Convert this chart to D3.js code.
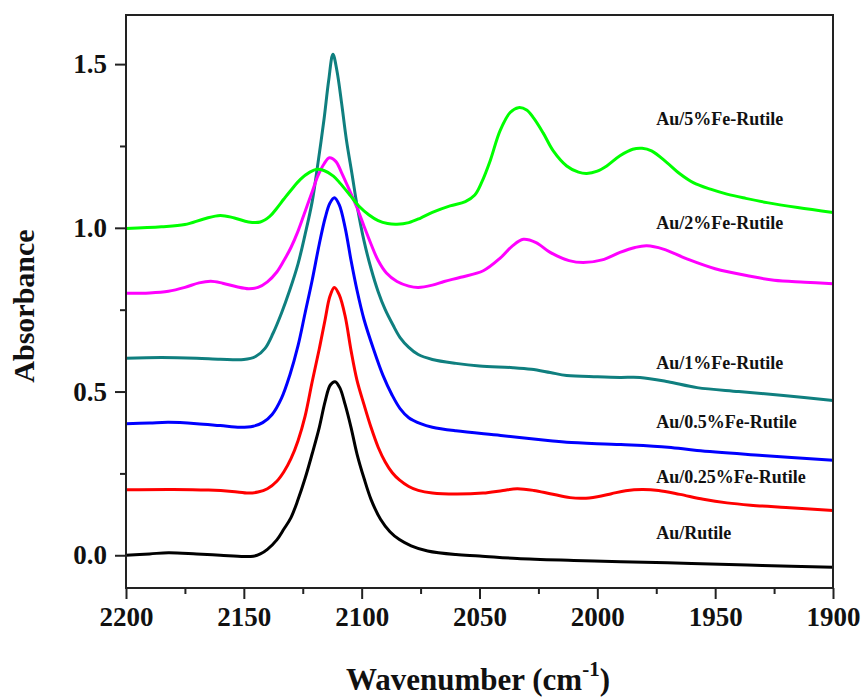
<!DOCTYPE html>
<html>
<head>
<meta charset="utf-8">
<script src="https://cdn.jsdelivr.net/npm/d3@7"></script>
<style>
  html, body { margin: 0; padding: 0; background: #fff; }
  svg { display: block; }
  text { font-family: "Times New Roman", "Liberation Serif", "DejaVu Serif", serif; font-weight: bold; fill: #111; }
</style>
</head>
<body>
<svg id="chart" width="864" height="700"></svg>
<script>
// IR spectra of CO adsorbed on Au catalysts: [wavenumber (cm-1), absorbance]
const auRutile = [
  [2200,0],[2190,0.004],[2182,0.008],[2170,0.004],[2160,0],[2150,-0.004],[2146,-0.003],
  [2143,0.004],[2140,0.018],[2136,0.047],[2133,0.08],[2130,0.115],[2127,0.17],[2124,0.235],
  [2121,0.31],[2118,0.39],[2115.5,0.47],[2113.3,0.52],[2111.3,0.53],[2109.3,0.512],
  [2107,0.46],[2104.5,0.39],[2102,0.31],[2099,0.235],[2096,0.17],[2092,0.11],[2088,0.072],
  [2084,0.048],[2079,0.029],[2072,0.013],[2060,0.002],[2050,-0.002],[2034,-0.01],
  [2010,-0.016],[1990,-0.02],[1960,-0.025],[1930,-0.031],[1900,-0.037]
];
const au025Fe = [
  [2200,0.2],[2180,0.201],[2165,0.199],[2155,0.195],[2148,0.19],[2144,0.193],[2140,0.203],
  [2136,0.226],[2133,0.255],[2130,0.295],[2127,0.35],[2124,0.425],[2121,0.53],[2118,0.63],
  [2115.5,0.72],[2113.5,0.79],[2111.6,0.818],[2109.5,0.795],[2107,0.73],[2104.5,0.625],
  [2102,0.535],[2099,0.46],[2096,0.39],[2093,0.33],[2090,0.285],[2087,0.252],[2084,0.23],
  [2080,0.21],[2076,0.198],[2070,0.19],[2060,0.187],[2048.5,0.19],[2040,0.198],[2034,0.203],
  [2027,0.198],[2020,0.188],[2011.6,0.176],[2006,0.174],[2000,0.179],[1994,0.188],
  [1988,0.197],[1981,0.201],[1974,0.198],[1965,0.186],[1955,0.171],[1945,0.16],
  [1935,0.153],[1920,0.146],[1900,0.137]
];
const au05Fe = [
  [2200,0.402],[2190,0.404],[2182,0.406],[2170,0.402],[2160,0.396],[2151.6,0.391],[2146,0.394],
  [2142,0.405],[2138,0.43],[2134,0.48],[2130.5,0.55],[2127,0.64],[2124,0.74],[2121,0.84],
  [2118,0.95],[2115.5,1.03],[2113.5,1.075],[2111.6,1.092],[2109.5,1.07],[2107,1.0],
  [2104.5,0.9],[2102,0.81],[2099,0.72],[2095,0.63],[2091,0.55],[2087,0.488],[2083.7,0.448],
  [2080,0.42],[2075,0.402],[2070,0.391],[2060,0.38],[2041,0.366],[2020,0.35],[2013,0.345],
  [1990,0.338],[1970,0.33],[1957.7,0.32],[1930,0.305],[1900,0.29]
];
const au1Fe = [
  [2200,0.602],[2185,0.604],[2170,0.602],[2160,0.599],[2150,0.598],[2145,0.607],[2141,0.632],
  [2137.6,0.678],[2134,0.74],[2130.5,0.81],[2127,0.89],[2124,0.98],[2121,1.08],[2118.5,1.2],
  [2116,1.33],[2114,1.45],[2112.2,1.53],[2110.5,1.48],[2108.5,1.38],[2106.5,1.27],[2104,1.16],
  [2102,1.07],[2099,0.96],[2096,0.875],[2093,0.805],[2090,0.75],[2086.7,0.703],[2083.7,0.665],
  [2080,0.635],[2076,0.613],[2070,0.598],[2060,0.586],[2050,0.578],[2035.8,0.573],[2028,0.568],
  [2020,0.558],[2013,0.549],[2000,0.545],[1990.4,0.543],[1981.9,0.543],[1970,0.53],
  [1957.7,0.512],[1940,0.5],[1921,0.488],[1900,0.473]
];
const au2Fe = [
  [2200,0.8],[2190,0.801],[2182,0.806],[2175,0.818],[2169,0.832],[2164,0.837],[2159,0.831],
  [2153,0.82],[2148,0.814],[2144,0.818],[2140,0.835],[2136,0.865],[2133,0.9],[2130,0.94],
  [2127,0.99],[2124,1.05],[2121,1.11],[2118.5,1.16],[2116,1.195],[2113.7,1.214],[2111,1.203],
  [2108.5,1.168],[2105,1.112],[2102,1.062],[2099,1.005],[2096,0.95],[2093,0.9],[2089.5,0.862],
  [2085,0.836],[2080,0.822],[2076,0.818],[2070,0.825],[2065,0.836],[2058,0.849],[2048.4,0.869],
  [2041,0.909],[2036,0.945],[2031.4,0.965],[2026,0.955],[2020,0.925],[2012,0.9],[2006,0.894],
  [1998,0.902],[1990.4,0.925],[1984,0.94],[1979,0.945],[1972,0.935],[1962,0.905],[1950,0.875],
  [1935,0.852],[1925,0.84],[1912,0.834],[1900,0.829]
];
const au5Fe = [
  [2200,0.998],[2185,1.003],[2175,1.01],[2167,1.027],[2160,1.038],[2154,1.03],[2148,1.018],
  [2143,1.018],[2139,1.035],[2136,1.06],[2133,1.088],[2130,1.115],[2126,1.148],[2122,1.17],
  [2119,1.179],[2116,1.175],[2112,1.158],[2109,1.135],[2105,1.1],[2101,1.065],[2097,1.04],
  [2093,1.022],[2089,1.013],[2085,1.011],[2080,1.016],[2075,1.03],[2070,1.047],[2062.5,1.067],
  [2056,1.08],[2052,1.1],[2049,1.14],[2045.5,1.204],[2041.3,1.296],[2037,1.352],[2033.5,1.367],
  [2030,1.36],[2027,1.335],[2023,1.29],[2018.7,1.235],[2013,1.189],[2008,1.17],[2004.5,1.166],
  [2000,1.173],[1996,1.189],[1990.4,1.22],[1985,1.24],[1981,1.243],[1977,1.235],[1970.6,1.2],
  [1965,1.165],[1959.3,1.138],[1952,1.118],[1945,1.103],[1937,1.09],[1928,1.077],[1915,1.062],
  [1900,1.047]
];

const seriesNames = ["Au/Rutile","Au/0.25%Fe-Rutile","Au/0.5%Fe-Rutile","Au/1%Fe-Rutile","Au/2%Fe-Rutile","Au/5%Fe-Rutile"];
const seriesData = [auRutile, au025Fe, au05Fe, au1Fe, au2Fe, au5Fe];
const seriesColors = ["#000000","#ff0000","#0000ff","#0f7f7f","#ff00ff","#00ff00"];
// label anchor: [wavenumber, absorbance] for each curve name
const labelPos = [[1975,0.05],[1975,0.22],[1975,0.39],[1975,0.57],[1975,0.995],[1975,1.315]];

const xTicks = [2200,2150,2100,2050,2000,1950,1900];
const xMinor = [2175,2125,2075,2025,1975,1925];
const yTicks = [0.0,0.5,1.0,1.5];
const yMinor = [0.25,0.75,1.25];

const svg = d3.select("#chart");
const m = {left:126, right:31, top:15, bottom:112};
const W = 864 - m.left - m.right, H = 700 - m.top - m.bottom;

const x = d3.scaleLinear().domain([2200,1900]).range([0,W]);
const y = d3.scaleLinear().domain([-0.1,1.65]).range([H,0]);

const g = svg.append("g").attr("transform",`translate(${m.left},${m.top})`);

const line = d3.line()
  .x(d => x(d[0]))
  .y(d => y(d[1]))
  .curve(d3.curveCatmullRom.alpha(0.5));

g.selectAll("path.spec")
  .data(seriesData)
  .join("path")
  .attr("class","spec")
  .attr("fill","none")
  .attr("stroke",(d,i)=>seriesColors[i])
  .attr("stroke-width",3)
  .attr("stroke-linejoin","round")
  .attr("d",line);

// frame
g.append("rect").attr("x",0).attr("y",0).attr("width",W).attr("height",H)
  .attr("fill","none").attr("stroke","#222").attr("stroke-width",2);

// bottom axis
const xAxis = g.append("g").attr("transform",`translate(0,${H})`)
  .call(d3.axisBottom(x).tickValues(xTicks).tickFormat(d3.format("d")).tickSize(11).tickPadding(8));
const xAxisMinor = g.append("g").attr("transform",`translate(0,${H})`)
  .call(d3.axisBottom(x).tickValues(xMinor).tickFormat("").tickSize(6));

// left axis
const yAxis = g.append("g")
  .call(d3.axisLeft(y).tickValues(yTicks).tickFormat(d3.format(".1f")).tickSize(11).tickPadding(8));
const yAxisMinor = g.append("g")
  .call(d3.axisLeft(y).tickValues(yMinor).tickFormat("").tickSize(6));

[xAxis,xAxisMinor,yAxis,yAxisMinor].forEach(a=>{
  a.select(".domain").remove();
  a.selectAll("line").attr("stroke","#222").attr("stroke-width",2);
});
[xAxis,yAxis].forEach(a=>{
  a.selectAll("text").attr("font-size",27).attr("fill","#111")
    .style("font-family","'Times New Roman','Liberation Serif',serif").style("font-weight","bold");
});

// curve names
g.selectAll("text.lbl")
  .data(seriesNames)
  .join("text")
  .attr("class","lbl")
  .attr("x",(d,i)=>x(labelPos[i][0]))
  .attr("y",(d,i)=>y(labelPos[i][1]))
  .attr("font-size",18)
  .text(d=>d);

// axis titles
svg.append("text")
  .attr("transform","translate(34,306) rotate(-90)")
  .attr("text-anchor","middle")
  .attr("font-size",30)
  .text("Absorbance");

const xt = svg.append("text")
  .attr("x",478).attr("y",690)
  .attr("text-anchor","middle")
  .attr("font-size",31);
xt.append("tspan").text("Wavenumber (cm");
xt.append("tspan").attr("font-size",21).attr("dy",-14).text("-1");
xt.append("tspan").attr("dy",14).text(")");
</script>
</body>
</html>
